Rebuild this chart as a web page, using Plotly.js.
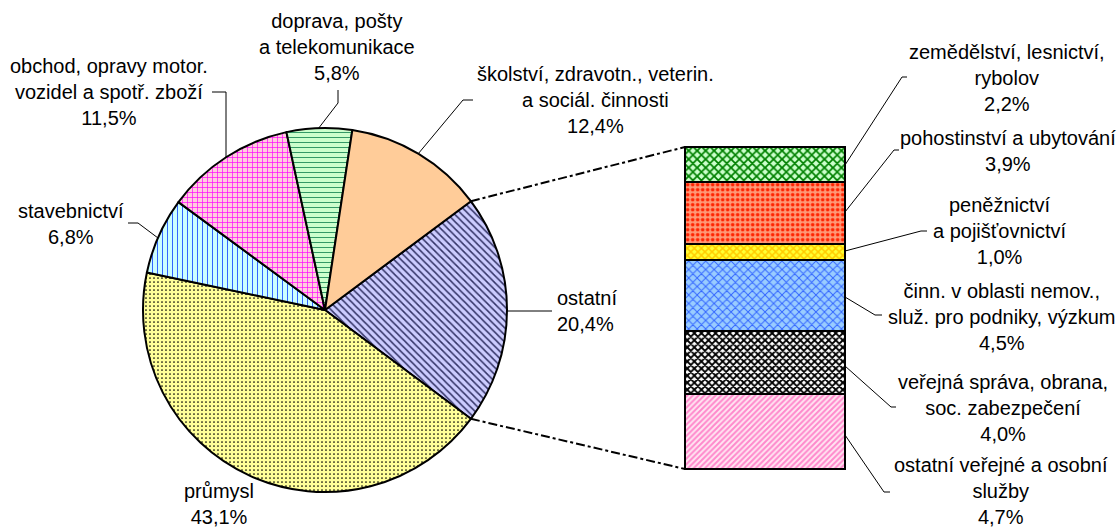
<!DOCTYPE html>
<html>
<head>
<meta charset="utf-8">
<script src="https://cdn.plot.ly/plotly-3.0.1.min.js"></script>
<style>html,body{margin:0;padding:0;background:#fff;}#chart{width:1118px;height:529px;}</style>
</head>
<body>
<div id="chart"></div>
<script>
// ---- data ----
const pieLabels = ['ostatní', 'průmysl', 'stavebnictví', 'obchod, opravy motor.<br>vozidel a spotř. zboží', 'doprava, pošty<br>a telekomunikace', 'školství, zdravotn., veterin.<br>a sociál. činnosti'];
const pieValues = [20.4, 43.1, 6.8, 11.5, 5.8, 12.4];
// bar segments, bottom to top
const barLabels = ['ostatní veřejné a osobní<br>služby', 'veřejná správa, obrana,<br>soc. zabezpečení', 'činn. v oblasti nemov.,<br>služ. pro podniky, výzkum', 'peněžnictví<br>a pojišťovnictví', 'pohostinství a ubytování', 'zemědělství, lesnictví,<br>rybolov'];
const barValues = [4.7, 4.0, 4.5, 1.0, 3.9, 2.2];

// ---- styles / layout ----
const W = 1118, H = 529;
const FONT = 'Liberation Sans, Arial, sans-serif';
const pieGeom = {cx: 325, cy: 310, r: 182};
const barGeom = {left: 685, right: 845, top: 147, bottom: 469};

const pieStyle = {
  bg: ['#ccccff', '#ffff99', '#ccffff', '#ffccdd', '#ccffcc', '#ffcc99'],
  fg: ['#333366', '#000000', '#3366ff', '#ff00ff', '#339966', '#ffcc99'],
  shape: ['\\', '.', '|', '+', '-', ''],
  size: [5, 4, 5, 5, 5, 8],
  solidity: [0.3, 0.15, 0.2, 0.25, 0.2, 0.1]
};
const barStyle = {
  bg: ['#ffe6f2', '#ffffff', '#99ccff', '#ffff33', '#ff9977', '#ccffcc'],
  fg: ['#ff88cc', '#000000', '#3366ff', '#ffcc00', '#ff2200', '#008000'],
  shape: ['/', 'x', 'x', 'x', '.', 'x'],
  size: [4, 5, 6, 5, 5, 6],
  solidity: [0.5, 0.6, 0.3, 0.5, 0.4, 0.5]
};

// label placements (px): [x, y, xanchor]
const piePlace = [[555, 311, 'left'], [219, 504, 'center'], [71, 224, 'center'], [109, 92, 'center'], [337, 47, 'center'], [595, 100, 'center']];
const barPlace = [[1001, 491], [1003, 408], [1002, 317], [1000, 231], [1008, 151], [1007, 78]];
// leader polylines (px)
const pieLeaders = [
  [[507, 311], [552, 311]],
  null,
  [[128, 223], [138, 223], [158, 238]],
  [[212, 92], [226, 92], [226, 157]],
  [[338, 90], [338, 103], [318, 129]],
  [[473, 100], [463, 100], [418, 154]]
];
const barLeaders = [
  [[845, 435], [884, 492], [890, 492]],
  [[845, 366], [891, 407], [896, 407]],
  [[845, 297], [875, 315], [882, 315]],
  [[845, 251], [921, 231], [927, 231]],
  [[845, 212], [894, 150], [899, 150]],
  [[845, 165], [902, 77], [907, 77]]
];

const fmt = v => v.toFixed(1).replace('.', ',') + '%';
const px = x => x / W, py = y => 1 - y / H;

const otherShare = pieValues[0] / pieValues.reduce((a, b) => a + b, 0);
const rotation = 90 - otherShare * 360 / 2;

const traces = [];
traces.push({
  type: 'pie', labels: pieLabels, values: pieValues, sort: false, direction: 'clockwise',
  rotation: rotation, textinfo: 'none', hoverinfo: 'label+value',
  domain: {x: [px(pieGeom.cx - pieGeom.r), px(pieGeom.cx + pieGeom.r)], y: [py(pieGeom.cy + pieGeom.r), py(pieGeom.cy - pieGeom.r)]},
  marker: {
    colors: pieStyle.bg,
    line: {color: '#000', width: 2},
    pattern: {shape: pieStyle.shape, fgcolor: pieStyle.fg, bgcolor: pieStyle.bg, size: pieStyle.size, solidity: pieStyle.solidity, fillmode: 'replace'}
  }
});

const total = barValues.reduce((a, b) => a + b, 0);
barValues.forEach((v, i) => {
  traces.push({
    type: 'bar', x: [0], y: [v], width: 1, name: barLabels[i], hoverinfo: 'y',
    xaxis: 'x', yaxis: 'y',
    marker: {
      color: barStyle.bg[i], line: {color: '#000', width: 2},
      pattern: {shape: barStyle.shape[i], fgcolor: barStyle.fg[i], bgcolor: barStyle.bg[i], size: barStyle.size[i], solidity: barStyle.solidity[i], fillmode: 'replace'}
    }
  });
});

// axis mapping so the bar spans barGeom
const padX = 0.03, padY = 0.3;
const kx = (barGeom.right - barGeom.left) / 1, ky = (barGeom.bottom - barGeom.top) / total;
const xDom = [px(barGeom.left - padX * kx), px(barGeom.right + padX * kx)];
const yDom = [py(barGeom.bottom + padY * ky), py(barGeom.top - padY * ky)];

const annotations = [];
const shapes = [];
function addLeader(pts) {
  if (!pts) return;
  for (let i = 0; i < pts.length - 1; i++) {
    shapes.push({type: 'line', xref: 'paper', yref: 'paper', x0: px(pts[i][0]), y0: py(pts[i][1]), x1: px(pts[i + 1][0]), y1: py(pts[i + 1][1]), line: {color: '#000', width: 1}});
  }
}
pieLabels.forEach((l, i) => {
  const p = piePlace[i];
  annotations.push({xref: 'paper', yref: 'paper', x: px(p[0]), y: py(p[1]), xanchor: p[2], yanchor: 'middle', align: p[2] === 'left' ? 'left' : 'center', showarrow: false, text: l + '<br>' + fmt(pieValues[i]), font: {family: FONT, size: 20, color: '#000'}});
  addLeader(pieLeaders[i]);
});
barLabels.forEach((l, i) => {
  const p = barPlace[i];
  annotations.push({xref: 'paper', yref: 'paper', x: px(p[0]), y: py(p[1]), xanchor: 'center', yanchor: 'middle', align: 'center', showarrow: false, text: l + '<br>' + fmt(barValues[i]), font: {family: FONT, size: 20, color: '#000'}});
  addLeader(barLeaders[i]);
});

// dash-dot connectors from the "ostatní" slice edges to the bar corners
const a0 = rotation * Math.PI / 180, a1 = (rotation + otherShare * 360) * Math.PI / 180;
const pStart = [pieGeom.cx + pieGeom.r * Math.sin(a0), pieGeom.cy - pieGeom.r * Math.cos(a0)];
const pEnd = [pieGeom.cx + pieGeom.r * Math.sin(a1), pieGeom.cy - pieGeom.r * Math.cos(a1)];
shapes.push({type: 'line', xref: 'paper', yref: 'paper', x0: px(pStart[0]), y0: py(pStart[1]), x1: px(barGeom.left), y1: py(barGeom.top), line: {color: '#000', width: 2, dash: 'dashdot'}});
shapes.push({type: 'line', xref: 'paper', yref: 'paper', x0: px(pEnd[0]), y0: py(pEnd[1]), x1: px(barGeom.left), y1: py(barGeom.bottom), line: {color: '#000', width: 2, dash: 'dashdot'}});

const layout = {
  width: W, height: H, margin: {l: 0, r: 0, t: 0, b: 0}, showlegend: false,
  paper_bgcolor: '#fff', plot_bgcolor: 'rgba(0,0,0,0)', barmode: 'stack',
  font: {family: FONT, size: 20, color: '#000'},
  xaxis: {domain: xDom, range: [-0.5 - padX, 0.5 + padX], visible: false, fixedrange: true},
  yaxis: {domain: yDom, range: [-padY, total + padY], visible: false, fixedrange: true},
  annotations: annotations, shapes: shapes
};
Plotly.newPlot('chart', traces, layout, {staticPlot: true, displayModeBar: false});
</script>
</body>
</html>
